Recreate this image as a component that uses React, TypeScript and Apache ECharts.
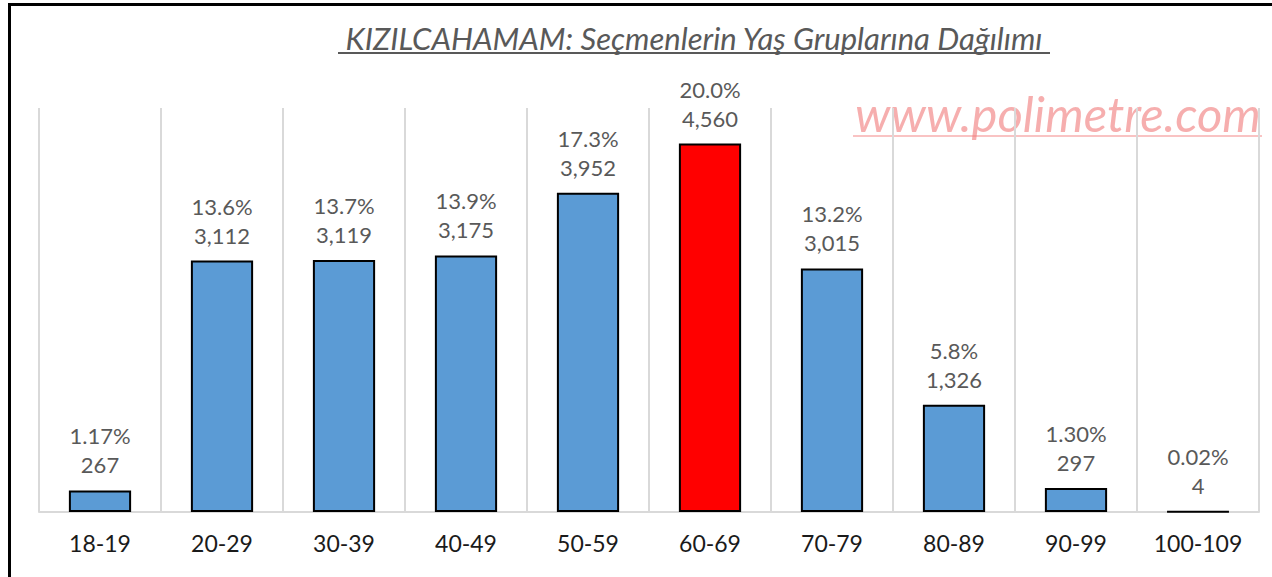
import React, { useEffect, useRef } from "react";
import * as echarts from "echarts";

const categories = ["18-19", "20-29", "30-39", "40-49", "50-59", "60-69", "70-79", "80-89", "90-99", "100-109"];
const voters = [267, 3112, 3119, 3175, 3952, 4560, 3015, 1326, 297, 4];
const shares = ["1.17%", "13.6%", "13.7%", "13.9%", "17.3%", "20.0%", "13.2%", "5.8%", "1.30%", "0.02%"];
const highlightIndex = 5;

const titleText = "KIZILCAHAMAM: Seçmenlerin Yaş Gruplarına Dağılımı";
const watermark = "www.polimetre.com";

export default function App() {
  const ref = useRef<HTMLDivElement>(null);
  useEffect(() => {
    if (!ref.current) return;
    const chart = echarts.init(ref.current, null, { renderer: "svg" });
    const font = "Lato, 'Open Sans', sans-serif";
    chart.setOption({
      animation: false,
      backgroundColor: "#ffffff",
      grid: { left: 39, right: 13, top: 108, bottom: 65, containLabel: false },
      xAxis: {
        type: "category",
        data: categories,
        boundaryGap: true,
        axisLine: { show: true, lineStyle: { color: "#d9d9d9", width: 2 } },
        axisTick: { show: false },
        splitLine: { show: true, lineStyle: { color: "#d9d9d9", width: 2 } },
        axisLabel: { color: "#1a1a1a", fontSize: 23, fontFamily: font, margin: 19, interval: 0 },
      },
      yAxis: {
        type: "value",
        min: 0,
        max: 5000,
        show: false,
        splitLine: { show: false },
      },
      series: [
        {
          type: "bar",
          barWidth: "51%",
          data: voters.map((v, i) => ({
            value: v,
            itemStyle: {
              color: i === highlightIndex ? "#ff0000" : "#5b9bd5",
              borderColor: "#000000",
              borderWidth: 2,
            },
          })),
          label: {
            show: true,
            position: "top",
            distance: 11,
            color: "#595959",
            fontSize: 22,
            fontFamily: font,
            lineHeight: 29,
            align: "center",
            formatter: (p: any) => shares[p.dataIndex] + "\n" + echarts.format.addCommas(p.value),
          },
        },
      ],
      graphic: [
        {
          type: "rect",
          shape: { x: 9.5, y: 4.5, width: 1400, height: 700 },
          style: { fill: "none", stroke: "#000000", lineWidth: 3 },
          silent: true,
        },
        {
          type: "text",
          x: 694,
          y: 38,
          style: {
            text: titleText,
            fill: "#595959",
            font: "italic 31px " + font,
            align: "center",
            verticalAlign: "middle",
          },
        },
        {
          type: "line",
          shape: { x1: 338, y1: 53, x2: 1050, y2: 53 },
          style: { stroke: "#595959", lineWidth: 2 },
        },
        {
          type: "text",
          x: 1058,
          y: 113,
          style: {
            text: watermark,
            fill: "rgba(240,120,120,0.6)",
            font: "italic 49px " + font,
            align: "center",
            verticalAlign: "middle",
          },
        },
        {
          type: "line",
          shape: { x1: 853, y1: 136, x2: 1262, y2: 136 },
          style: { stroke: "rgba(240,120,120,0.6)", lineWidth: 1.5 },
        },
      ],
    });
    return () => chart.dispose();
  }, []);
  return (
    <div
      ref={ref}
      style={{ position: "fixed", left: 0, top: 0, width: 1272, height: 577 }}
    />
  );
}
